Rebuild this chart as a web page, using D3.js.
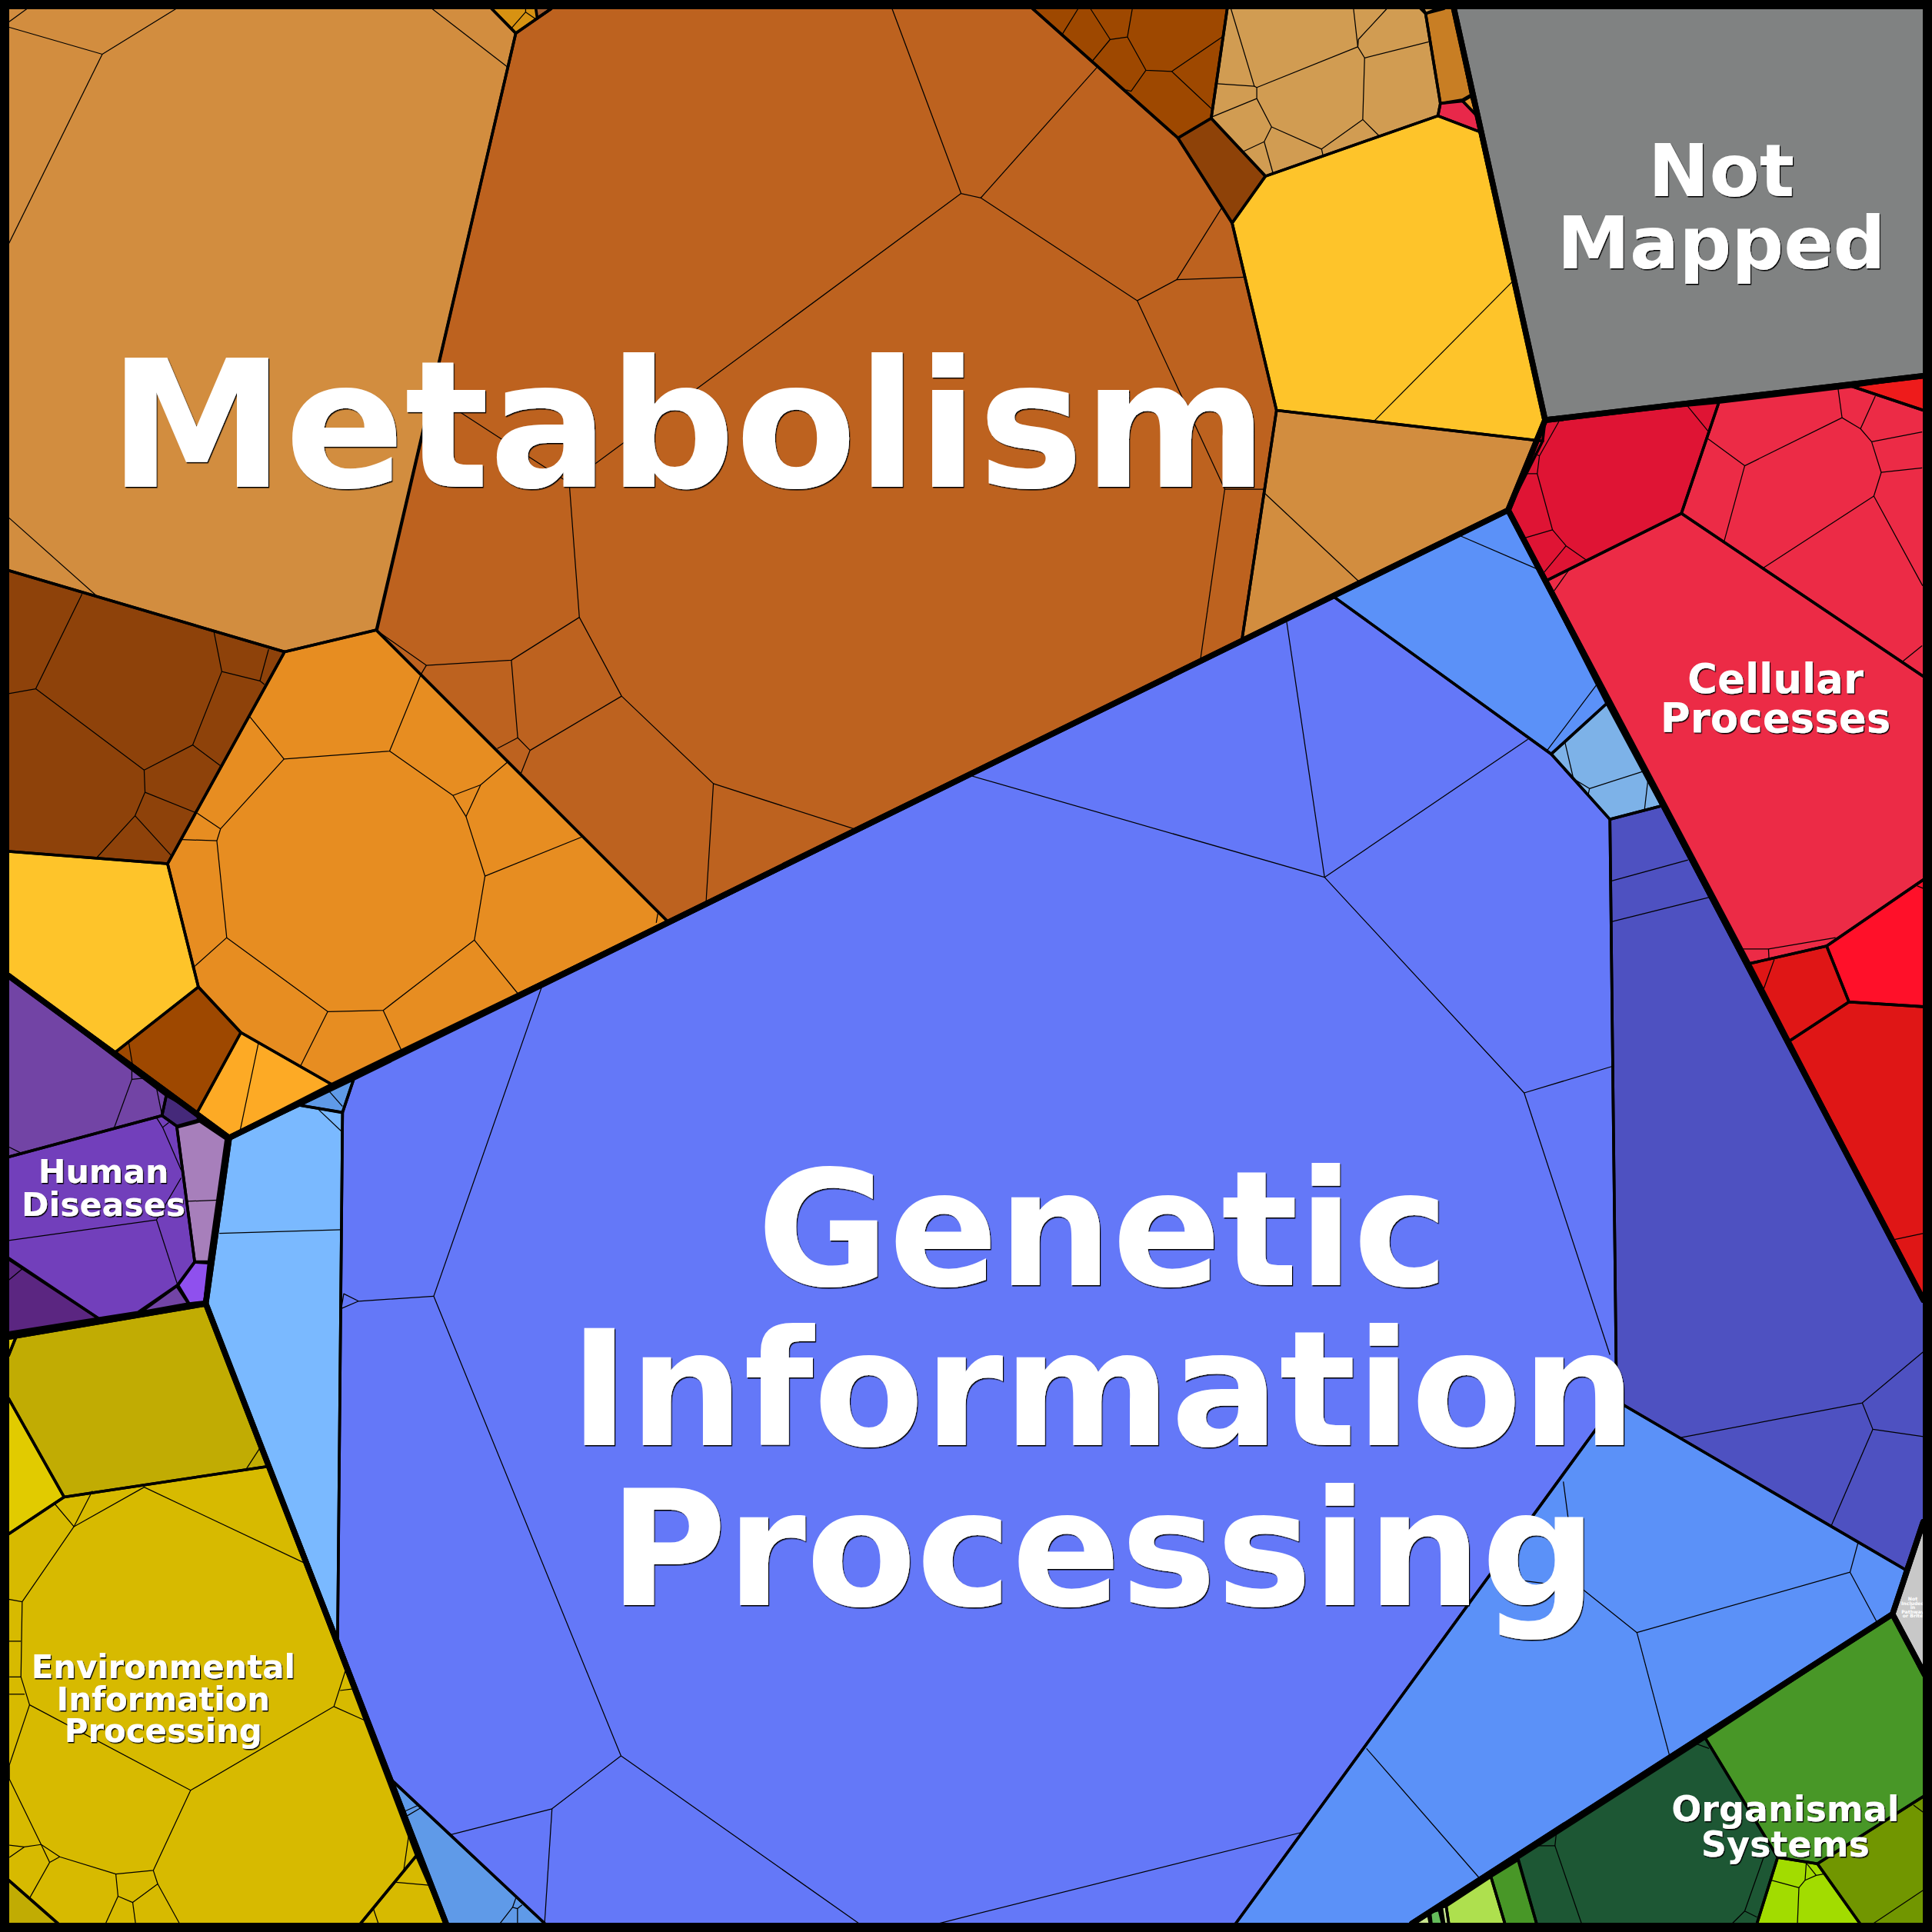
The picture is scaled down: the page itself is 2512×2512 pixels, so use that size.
<!DOCTYPE html>
<html><head><meta charset="utf-8">
<script src="https://cdn.jsdelivr.net/npm/d3@7"></script>
<style>html,body{margin:0;padding:0;background:#000}svg{display:block}</style>
</head><body><svg id="chart" width="2512" height="2512"></svg>
<script>
// Voronoi treemap, all vertices in map units (0-1568).
const groupNames = ["Metabolism","Genetic Information Processing","Cellular Processes","Human Diseases","Environmental Information Processing","Organismal Systems","Not Mapped","Not Included in Pathway or Brite"];
const groupRings = [
 [[7,7],[1180,7],[1254,341],[1224,414],[186,923.5],[7,792]],
 [[1224,414],[1561,1055],[1561,1235],[1536,1310],[1146,1561],[362,1561],[167,1058],[186,923.5]],
 [[1254,341],[1561,305],[1561,1055],[1224,414]],
 [[7,792],[186,923.5],[167,1058],[7,1085]],
 [[7,1085],[167,1058],[362,1561],[7,1561]],
 [[1536,1310],[1561,1357],[1561,1561],[1146,1561]],
 [[1180,7],[1561,7],[1561,305],[1254,341]],
 [[1561,1235],[1536,1310],[1561,1357]]
];
const pathwayRings = [
 // metabolism
 [[7,7],[399,7],[418.6,27],[306,511],[231,529],[7,463]],
 [[418.6,27],[447.4,7],[838,7],[956,112],[1000,181],[1036,333],[1008,519],[542,748],[305.4,511.4]],
 [[399,7],[447.4,7],[418.6,27]],
 [[434.9,7],[447.4,7],[436,14.6]],
 [[838,7],[996,7],[983,96],[956,112]],
 [[983,96],[1027,143],[1000,181],[956,112]],
 [[996,7],[1153,7],[1157,11],[1169,84],[1167,94],[1027,143],[983,96]],
 [[1155,7],[1167,7],[1157,11]],
 [[1157,11],[1172,7],[1180,7],[1194,77],[1187,81],[1169,84]],
 [[1169,84],[1187,82],[1198.6,94],[1201,107],[1167,94]],
 [[1187,82],[1194,78],[1198.6,94]],
 [[1167,94],[1201,107],[1254,341],[1252,358],[1036,333],[1000,181],[1027,143]],
 [[1036,333],[1252,358],[1224,414],[1008,519]],
 [[7,463],[231,529],[136,701],[7,691]],
 [[231,529],[305.4,511.4],[542,748],[269,880],[195.5,838],[161,801],[136,701]],
 [[7,691],[136,701],[161,801],[93.6,854],[7,792]],
 [[161,801],[195.5,838],[160,903],[93.6,854]],
 [[195.5,838],[269,880],[186,922.5],[160,903]],
 // human diseases
 [[7,792],[135,889],[131.5,905.4],[7,939]],
 [[135,889],[160,903],[161,909],[143.5,914],[131.5,905.4]],
 [[7,939],[131.5,905.4],[143.5,914],[158,1024],[144,1043],[112,1065],[80,1070],[7,1021]],
 [[143.5,915],[162,910],[183.5,924.5],[169.5,1024],[158,1024]],
 [[158,1024.4],[169.5,1025],[166,1056.6],[153.5,1058],[144.5,1043]],
 [[143.5,1043.7],[153,1058],[114,1065]],
 [[7,1022],[80,1070],[7,1081.6]],
 // environmental
 [[13,1085],[167,1058],[218,1190],[52,1215],[7,1135],[7,1100]],
 [[7,1135],[52,1215],[7,1245]],
 [[7,1086],[13,1085],[7,1100]],
 [[7,1245],[52,1215],[218,1190],[338,1506],[292.7,1561],[47,1561],[7,1526]],
 [[338,1506],[362,1561],[292.7,1561]],
 [[7,1526],[47,1561],[7,1561]],
 // genetic information
 [[287,876],[1082,484],[1259,612],[1306.6,665],[1312,1137],[1003,1561],[442,1561],[315,1442],[274,1330],[278,903]],
 [[186,923.5],[243,897],[278,903],[274,1330],[167,1058]],
 [[243,897],[267,885.5],[287,876],[278,902.7]],
 [[315,1442],[442,1561],[362,1561]],
 [[1082,484],[1224,414],[1304,571],[1259,612]],
 [[1304,571],[1348.6,654],[1306.6,665],[1259,612]],
 [[1306.6,665],[1348.6,654],[1561,1055],[1561,1235],[1546.5,1274],[1312,1137]],
 [[1312,1137],[1546.5,1274],[1536,1310],[1146,1561],[1003,1561]],
 // cellular
 [[1255.5,339.5],[1395,326.6],[1364.6,416.7],[1255.5,471],[1223.7,414]],
 [[1395,326.6],[1503.3,313.7],[1561,333],[1561,549],[1364.6,416.7]],
 [[1503.3,313.7],[1561,305],[1561,333]],
 [[1255.5,471],[1364.6,416.7],[1561,549],[1561,714],[1482.5,767.8],[1420,782]],
 [[1482.5,767.8],[1561,714],[1561,817],[1500.6,813.2]],
 [[1420,782],[1482.5,767.8],[1500.6,813.2],[1452.3,844.8]],
 [[1500.6,813.2],[1561,817],[1561,1055],[1452.3,844.8]],
 // organismal
 [[1384,1410.6],[1536,1310],[1561,1360],[1561,1458],[1475,1512.6],[1442.7,1507.4]],
 [[1232,1508],[1384,1410.6],[1442.7,1507.4],[1426,1561],[1247,1561]],
 [[1442.7,1507.4],[1475,1512.6],[1509.4,1561],[1426,1561]],
 [[1475,1512.6],[1561,1458],[1561,1561],[1509.4,1561]],
 [[1210,1523],[1232,1509.4],[1247,1561],[1221.3,1561]],
 [[1173.7,1547],[1210,1523],[1221.3,1561],[1175.8,1561]],
 [[1170,1548],[1173.7,1547],[1175.8,1561],[1172,1561]],
 [[1160.6,1552],[1168,1550],[1170.6,1561],[1161.6,1561]],
 [[1145.5,1561],[1159,1553],[1160.6,1561]],
 // others
 [[1180,7],[1561,7],[1561,305],[1254,341]],
 [[1561,1235],[1536,1310],[1561,1357]]
];
const pathwayColors = [
 "#d28d3f","#bd621f","#d79212","#a66030","#9e4800","#8e4208","#d19c52","#d19c52","#c87e24","#e8284a","#e0962f","#fec42a","#d28d3f","#8e420a","#e78d21","#fec42a","#9e4800","#fdaa25",
 "#7244a5","#45297a","#723fbb","#a77fbb","#8f50ee","#7244a5","#5b2681",
 "#c1ac03","#e1cb00","#e1cb00","#d7ba00","#d7ba00","#c1ac03",
 "#6478f8","#7ab9ff","#5f9ae8","#5f9ae8","#5b91f8","#7db2e8","#4e51c1","#5b91f8",
 "#df1434","#ec2b46","#ee1b1b","#ec2b46","#ff1029","#df1616","#df1616",
 "#489727","#1d5734","#a2dc00","#719600","#489727","#aee04e","#c9e58f","#65bc5b","#c9e58f",
 "#808282","#c8c8c8"
];
const leafEdges = [
 // tan big
 [[7,22],[83,44],[143,7]],[[83,44],[7,198]],[[350.6,7],[412,54.5]],[[22,7],[7,18]],[[7,420],[80,485]],
 // gold
 [[426.6,7],[426.6,9.8],[415,23]],[[426.6,9.8],[435,15.6]],
 // brown big
 [[724,7],[780,157],[796,160.6],[923,244],[955,227],[992,168]],[[796,160.6],[890,55]],[[955,227],[1010,225]],
 [[923,244],[994,397],[1026,397]],[[994,397],[974,537]],[[780,157],[462,392],[348,318]],
 [[462,392],[470.2,501],[504.5,565],[579,636],[694,673]],[[579,636],[573,733]],
 [[470.2,501],[415,535.8],[346,540],[305.4,511.4]],[[346,540],[341.8,547]],
 [[415,535.8],[420.2,598.8],[430.2,609],[422.7,628]],[[420.2,598.8],[403.6,607.5]],[[430.2,609],[504.5,565]],
 // dark top
 [[875,7],[862,28]],[[885,7],[901,32],[915,30],[919,7]],[[901,32],[887,49]],[[915,30],[930,57],[951,58],[992,30]],
 [[930,57],[918,74],[914,73]],[[951,58],[983,88]],
 // light tan
 [[999,7],[1018,70],[988,68]],[[1018,70],[1020,71],[1020,80],[983.5,95]],[[1020,71],[1102,38],[1098.5,7]],[[1102,38],[1102.5,32],[1125.6,7]],
 [[1102,38],[1107.5,47],[1159.6,34]],[[1107.5,47],[1106,97],[1119,110]],[[1106,97],[1072.6,121],[1073.7,126]],
 [[1072.6,121],[1032,103],[1020,80]],[[1032,103],[1026,115],[1009,123]],[[1026,115],[1033,140]],
 // yellow, tan right
 [[1229,227],[1115,342]],[[1026,400],[1104,473]],[[1026,400],[1019,440]],
 // dark left
 [[66.6,482],[29,559],[7,563]],[[29,559],[117,625],[156.4,604.6],[180,545],[173.7,513]],[[180,545],[211,552.6],[218,527]],[[211,552.6],[214.6,555.6]],
 [[156.4,604.6],[179,621.5]],[[117,625],[117.7,643],[159,659.6]],[[117.7,643],[109.6,662],[78.6,696]],[[109.6,662],[138.7,694]],
 // orange
 [[341.8,547],[316.2,609.6],[230.5,616],[203,582]],[[316.2,609.6],[367.6,645.6],[378.2,662.7],[390.1,637],[412,618.4]],[[367.6,645.6],[390.1,637]],
 [[230.5,616],[179,672.7],[176,682.4],[184,761],[266,821],[311,820],[385,763],[393.6,711],[378.2,662.7]],
 [[393.6,711],[472.2,679.3]],[[179,672.7],[160,660]],[[176,682.4],[148,681.4]],[[385,763],[420,806]],[[311,820],[326,853]],[[266,821],[244,865]],[[184,761],[156,786]],
 [[534,740.7],[532.6,749]],
 [[104.6,846.6],[107.5,864]],[[209.7,846.6],[195,917]],
 // purple
 [[107,867],[107,876],[116.5,875]],[[107,876],[92.6,915.6]],[[127,883],[131.5,905]],[[7.5,931],[16.6,935.6]],
 [[127,907],[132,915],[137,911]],[[132,915],[147,949.5]],[[147,956],[127,990],[7,1006.7]],[[127,990],[144,1042.5]],
 [[152,975],[177,974]],[[7,1039],[18.3,1029.6]],
 // environmental
 [[44,1220],[60,1239],[117,1207],[246,1268]],[[75,1210],[60,1239]],[[60,1239],[18,1300],[17,1361],[24,1383.6],[154.7,1453],[271,1385],[280.5,1355.5]],
 [[17,1361],[7.6,1361]],[[20,1375],[7.6,1375]],[[271,1385],[296.6,1396.5]],[[276,1372],[286.6,1370.7]],[[7,1298],[18,1300]],[[7,1332],[17,1332]],
 [[24,1383.6],[7.6,1432.5],[7.6,1444],[33.4,1497],[48.5,1507],[94,1521],[124.4,1518],[154.7,1453]],
 [[33.4,1497],[19.7,1499],[7.6,1497.6]],[[19.7,1499],[7.6,1507.4]],[[33.4,1497],[40.3,1511.5],[48.5,1507]],[[40.3,1511.5],[24.3,1540]],
 [[94,1521],[95.8,1539],[107.7,1544],[128,1529],[124.4,1518]],[[95.8,1539],[85.8,1561]],[[107.7,1544],[110,1561]],[[128,1529],[145.6,1561]],
 [[332,1487.6],[327.5,1519]],[[321.5,1527.7],[348,1530]],[[303,1549],[307,1561]],[[200,1192],[213,1172]],
 // genetic main
 [[1044,503],[1075,712],[786,629]],[[1075,712],[1240,600]],[[1075,712],[1237,887],[1310,865]],[[1237,887],[1306.6,1099.5]],
 [[440,800],[352,1052],[504,1425],[448,1468],[366,1489]],[[448,1468],[442,1561]],[[504,1425],[697,1561]],[[1057,1487],[762,1561]],
 [[352,1052],[291,1056],[277,1062],[279,1050],[291,1056]],
 // sky
 [[178,1001],[277,998]],[[258,900],[277,918]],[[267,885.5],[278,898]],
 [[328.5,1470],[339.7,1465]],[[330,1474],[341.8,1467]],[[418.6,1540.6],[416,1548],[420,1549],[423.7,1546]],[[416,1548],[405.8,1561]],[[420,1549],[420,1561]],
 [[1183,434],[1248,462]],[[1296,555.5],[1255.7,609]],
 [[1266,605],[1270,602],[1277,632],[1290,640],[1333.7,626]],[[1290,640],[1289,645]],[[1337.4,633.5],[1334.7,657]],
 // indigo
 [[1308,715],[1370,698]],[[1308,748],[1388,728]],[[1362.6,1167],[1511.4,1138.6],[1561,1097]],[[1511.4,1138.6],[1520,1160],[1561,1166]],[[1520,1160],[1486.4,1238]],
 // blue lower right
 [[1268.8,1202.4],[1272.5,1230.5],[1278,1285]],[[1237,1283],[1283.4,1289],[1328.5,1325],[1501.5,1276],[1508,1252]],[[1501.5,1276],[1523,1316]],[[1328.5,1325],[1355,1425]],[[1109,1419],[1201,1524.6]],
 // crimson
 [[1265.8,341],[1249.4,370],[1245,368]],[[1249.4,370],[1247.6,384.5],[1238,384.5]],[[1247.6,384.5],[1260,430],[1237.6,436.5]],[[1260,430],[1271,443],[1287.5,454.6]],[[1271,443],[1252.8,465]],[[1369.8,329.8],[1386.3,350]],
 // pink
 [[1386,356],[1416,378],[1399.3,439.4]],[[1416,378],[1495,339],[1491.7,315]],[[1495,339],[1510,348],[1522,321.4]],[[1510,348],[1519,358.5],[1560,350.6]],[[1519,358.5],[1526.8,383.4],[1560,379.7]],
 [[1526.8,383.4],[1520.8,402.6],[1560.4,475.4]],[[1520.8,402.6],[1431,461]],[[1273,463],[1261,480]],[[1544,537],[1560,524]],
 [[1412.8,770.2],[1435.3,770.2],[1489.8,761]],[[1435.3,770.2],[1435.7,778]],[[1440,778.6],[1431,803.7]],[[1556,719],[1561,721]],[[1537.6,1006],[1561,1001]],
 // organismal
 [[1376,1415],[1387,1419]],[[1263,1488.6],[1262,1498],[1247,1498]],[[1262,1498],[1283.5,1561]],[[1431.5,1507],[1416,1551],[1426,1556]],[[1416,1551],[1406,1561]],
 [[1437.5,1526],[1460,1532],[1465,1526],[1466,1511.5]],[[1465,1526],[1474,1522],[1480,1521]],[[1466,1512],[1474,1522]],[[1460,1532],[1458.8,1561]],
 [[1553,1465],[1561,1471]],[[1561,1534],[1520.6,1561]]
];
const labelLines = [
 ["Metabolism"],["Genetic","Information","Processing"],["Cellular","Processes"],["Human","Diseases"],["Environmental","Information","Processing"],["Organismal","Systems"],["Not","Mapped"],["Not","Included","in","Pathway","or Brite"]
];
const labelCenterX = [558.5,895,1441,84,132.5,1449,1397,1552.4];
const labelFirstBaseline = [395,1043,562.5,960,1362,1478,159,1299];
const labelLineStep = [0,130,32,27,26,29,59,3.5];
const labelFontPx = [230,209,53,42.7,41.8,46,95,6.2];

const x = d3.scaleLinear().domain([0,1568]).range([0,2512]);
const y = d3.scaleLinear().domain([0,1568]).range([0,2512]);
const line = d3.line().x(d=>x(d[0])).y(d=>y(d[1])).curve(d3.curveLinear);
const ring = d=>line(d)+"Z";
// Outline of a ring without the sides that run along the frame, so the frame keeps its own width.
const onFrame = (a,b) => (a[0]<=8&&b[0]<=8)||(a[1]<=8&&b[1]<=8)||(a[0]>=1560.5&&b[0]>=1560.5)||(a[1]>=1560.5&&b[1]>=1560.5);
const outline = d => d.map((p,i)=>[p,d[(i+1)%d.length]]).filter(s=>!onFrame(s[0],s[1])).map(line).join("");
const svg = d3.select("#chart");
const defs = svg.append("defs");
const f = defs.append("filter").attr("id","sh").attr("x","-5%").attr("y","-5%").attr("width","110%").attr("height","110%");
f.append("feDropShadow").attr("dx",1.2).attr("dy",1.5).attr("stdDeviation",0.4).attr("flood-color","#000");

svg.append("g").selectAll("path").data(pathwayRings).join("path").attr("d",ring)
  .attr("fill",(d,i)=>pathwayColors[i]).attr("stroke",(d,i)=>pathwayColors[i]).attr("stroke-width",1);
svg.append("g").selectAll("path").data(leafEdges).join("path").attr("d",line)
  .attr("fill","none").attr("stroke","#000").attr("stroke-width",1.25).attr("stroke-linejoin","round");
svg.append("g").selectAll("path").data(pathwayRings).join("path").attr("d",outline)
  .attr("fill","none").attr("stroke","#000").attr("stroke-width",3.6).attr("stroke-linecap","round");
svg.append("g").selectAll("path").data(groupRings).join("path").attr("d",outline)
  .attr("fill","none").attr("stroke","#000").attr("stroke-width",7.5).attr("stroke-linecap","round");

const tg = svg.append("g").attr("font-family","'DejaVu Sans'").attr("font-weight","bold").attr("fill","#fff").attr("text-anchor","middle");
labelLines.forEach((lines,i)=>{
  const t = tg.append("text").attr("font-size",labelFontPx[i]);
  if(i<7) t.attr("filter","url(#sh)");
  lines.forEach((s,j)=>t.append("tspan").attr("x",x(labelCenterX[i])).attr("y",y(labelFirstBaseline[i]+j*labelLineStep[i])).text(s));
});
svg.append("rect").attr("x",x(0)+6).attr("y",y(0)+6).attr("width",2500).attr("height",2500)
  .attr("fill","none").attr("stroke","#000").attr("stroke-width",12);
</script></body></html>
